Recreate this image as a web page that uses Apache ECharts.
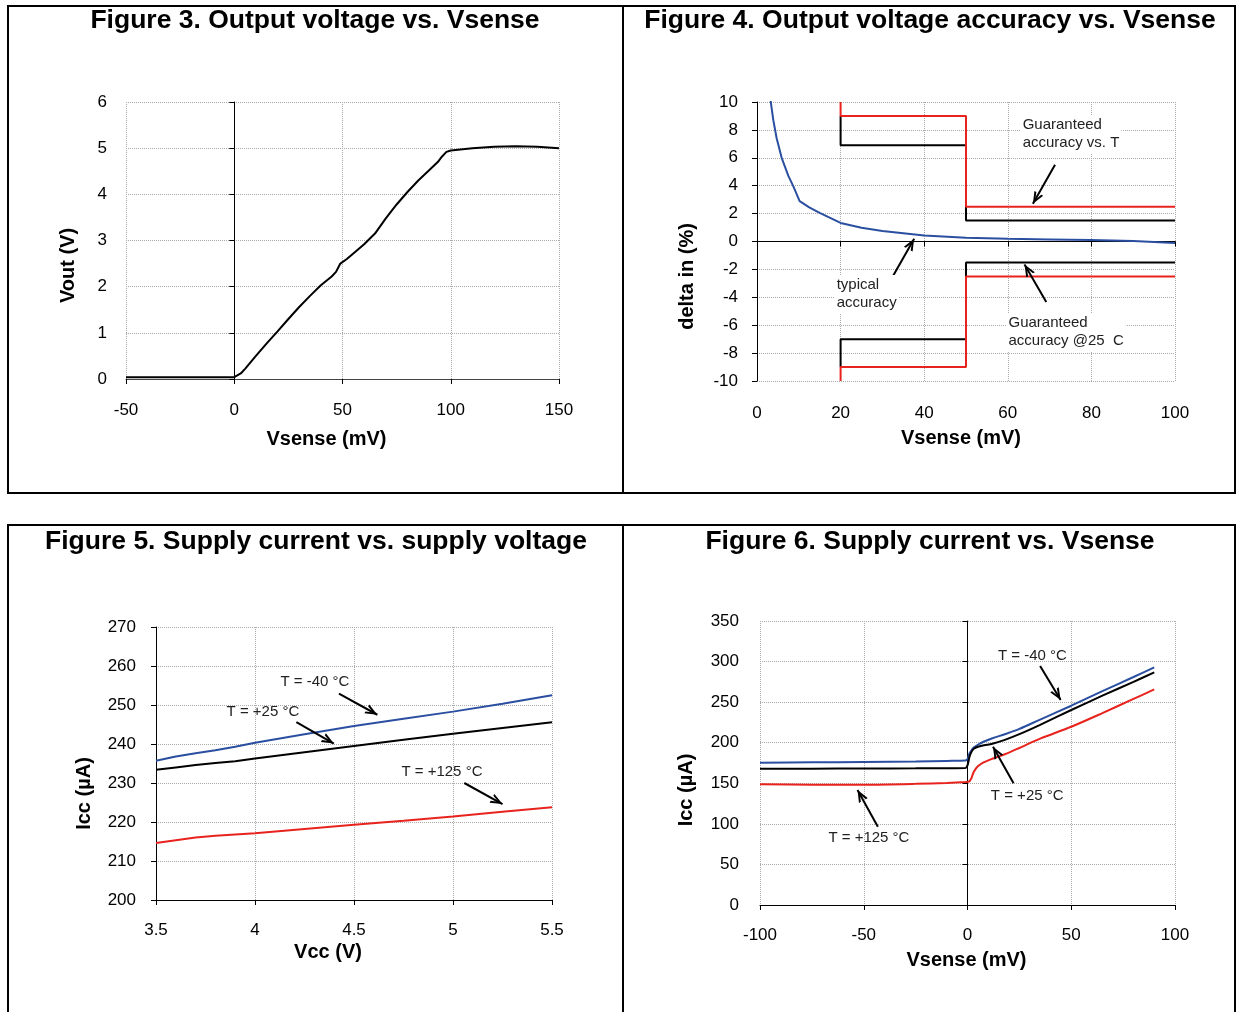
<!DOCTYPE html>
<html>
<head>
<meta charset="utf-8">
<script src="https://cdn.jsdelivr.net/npm/echarts@6/dist/echarts.min.js"></script>
<style>
  html, body { margin: 0; padding: 0; background: #fff; }
  #main { width: 1237px; height: 1012px; }
</style>
</head>
<body>
<div id="main"></div>
<script>
// Figure 3: output voltage vs Vsense
const vsense3 = [-50, -40, -30, -20, -10, 0, 3, 5, 10, 15, 20, 25, 30, 35, 40, 45, 47, 49, 52, 55, 60, 65, 70, 75, 80, 85, 90, 94, 96, 98, 100, 110, 120, 130, 140, 150];
const vout3 = [0.04, 0.04, 0.04, 0.04, 0.04, 0.04, 0.12, 0.22, 0.5, 0.77, 1.03, 1.3, 1.56, 1.8, 2.03, 2.22, 2.32, 2.5, 2.6, 2.72, 2.92, 3.15, 3.48, 3.78, 4.05, 4.3, 4.52, 4.7, 4.82, 4.92, 4.95, 5.0, 5.03, 5.04, 5.03, 5.0];

// Figure 4: accuracy vs Vsense
const vsense4 = [3.1, 3.25, 3.9, 4.7, 5.9, 7.5, 8.7, 10.2, 12.5, 15, 17.5, 20, 25, 30, 40, 50, 60, 70, 80, 90, 100];
const typical4 = [10.5, 10.1, 8.7, 7.4, 6.0, 4.7, 3.95, 2.9, 2.45, 2.05, 1.7, 1.33, 0.98, 0.75, 0.43, 0.27, 0.19, 0.14, 0.1, 0.03, -0.1];
const stepX4 = [20, 20, 50, 50, 100];
const guarTHi = [10, 9, 9, 2.5, 2.5];
const guarTLo = [-10, -9, -9, -2.5, -2.5];
const guar25Hi = [9, 6.9, 6.9, 1.5, 1.5];
const guar25Lo = [-9, -7, -7, -1.5, -1.5];

// Figure 5: supply current vs supply voltage
const vcc5 = [3.5, 3.6, 3.7, 3.8, 3.9, 4.0, 4.25, 4.5, 4.75, 5.0, 5.25, 5.5];
const icc5Minus40 = [235.7, 236.8, 237.6, 238.4, 239.3, 240.3, 242.5, 244.6, 246.5, 248.3, 250.3, 252.5];
const icc5Plus25 = [233.4, 234.0, 234.6, 235.1, 235.6, 236.3, 237.9, 239.5, 241.1, 242.6, 244.1, 245.6];
const icc5Plus125 = [214.6, 215.3, 216.0, 216.5, 216.8, 217.1, 218.2, 219.3, 220.3, 221.4, 222.6, 223.8];

// Figure 6: supply current vs Vsense
const vsense6 = [-100, -75, -50, -25, -10, -1, 0, 1, 2, 3, 5, 8, 12, 18, 25, 35, 50, 65, 80, 90];
const icc6Minus40 = [175.4, 175.8, 176.3, 177, 177.6, 178, 180, 187, 191, 194, 197.5, 201.5, 205.5, 210.5, 217, 228.5, 245.6, 263.5, 281, 292.9];
const icc6Plus25 = [167.9, 168, 168.2, 168.4, 168.6, 168.7, 172, 183, 189, 192.5, 195, 196.8, 198.8, 203.5, 210.5, 222, 240.3, 258, 275, 286.8];
const icc6Plus125 = [148.7, 148.3, 148.3, 149.3, 150.5, 151.5, 151.8, 152.5, 157, 164, 171, 176, 180.3, 185.8, 193.5, 205, 219.7, 236.5, 254, 265.7];

// annotations: [text, top-left in data coords]
const notes4 = [
  ['Guaranteed\naccuracy vs. T', [63.2, 9.03]],
  ['typical\naccuracy', [18.7, -2.44]],
  ['Guaranteed\naccuracy @25  C', [59.8, -5.16]]
];
const arrows4 = [
  [[71.3, 5.5], [66, 2.7]],
  [[32.2, -2.65], [37.6, 0.2]],
  [[69.2, -4.33], [64, -1.64]]
];
const notes5 = [
  ['T = -40 °C', [4.131, 258.2]],
  ['T = +25 °C', [3.859, 250.5]],
  ['T = +125 °C', [4.742, 235.1]]
];
const arrows5 = [
  [[4.424, 252.9], [4.618, 247.5]],
  [[4.209, 245.6], [4.398, 240.1]],
  [[5.057, 230.0], [5.25, 224.6]]
];
const notes6 = [
  ['T = -40 °C', [14.9, 317]],
  ['T = +25 °C', [11.5, 145.5]],
  ['T = +125 °C', [-66.8, 93.7]]
];
const arrows6 = [
  [[35, 294.5], [44.9, 252.6]],
  [[22.2, 150], [12.3, 195]],
  [[-43.2, 96.5], [-53, 141.7]]
];

const BLUE = '#2b4fa0', RED = '#e8231e', BLACK = '#000';
const FONT = '"Liberation Sans", Arial, sans-serif';
const ARROW = 'path://M5,-10 L5.01,-10 Z M0,10 L5,0 L10,10 L7.8,10 L5,4 L2.2,10 Z';

const zip = (xs, ys) => xs.map((x, i) => [x, ys[i]]);

const splitDotted = { show: true, lineStyle: { type: 'dotted', color: '#aaa', width: 1 } };
const tick = { show: true, length: 5, lineStyle: { color: '#000', width: 1 } };
// padding shifts an axis name along its axis
const nameStyle = (padding) => ({ fontSize: 20, fontWeight: 'bold', color: '#000', fontFamily: FONT, padding: padding });
const lbl = (margin) => ({ fontSize: 17, color: '#000', margin: margin, fontFamily: FONT });

function arrowLines(list) {
  return {
    silent: true,
    symbol: ['none', ARROW],
    symbolSize: [10, 24],
    label: { show: false },
    lineStyle: { color: '#000', width: 2, type: 'solid' },
    data: list.map(a => [{ coord: a[0] }, { coord: a[1] }])
  };
}
function notePoints(list, bg) {
  return {
    silent: true,
    symbol: 'circle',
    symbolSize: 1,
    itemStyle: { color: 'rgba(0,0,0,0)' },
    label: {
      show: true, position: [0, 0], color: '#222', fontSize: 15, lineHeight: 18,
      fontFamily: FONT, backgroundColor: bg ? '#fff' : 'transparent', padding: bg ? [1, 2] : 0
    },
    data: list.map(n => ({ coord: n[1], label: { formatter: n[0] } }))
  };
}
function line(name, data, color, xi, yi, extra) {
  return Object.assign({
    name: name, type: 'line', data: data, xAxisIndex: xi, yAxisIndex: yi,
    showSymbol: false, symbol: 'none', lineStyle: { color: color, width: 2 },
    itemStyle: { color: color }, silent: true, z: 3
  }, extra || {});
}

const option = {
  animation: false,
  textStyle: { fontFamily: FONT },
  grid: [
    { left: 126, top: 102, width: 433, height: 277, outerBoundsMode: 'none' },
    { left: 757, top: 102, width: 418, height: 279, outerBoundsMode: 'none' },
    { left: 156, top: 627, width: 396, height: 273, outerBoundsMode: 'none' },
    { left: 760, top: 621, width: 415, height: 284, outerBoundsMode: 'none' }
  ],
  xAxis: [
    { // 0: fig 3
      gridIndex: 0, type: 'value', min: -50, max: 150, interval: 50, position: 'bottom',
      axisLine: { show: true, onZero: false, lineStyle: { color: '#444' } }, axisTick: tick,
      axisLabel: lbl(23), splitLine: splitDotted,
      name: 'Vsense (mV)', nameLocation: 'middle', nameGap: 50, nameTextStyle: nameStyle([0, 32, 0, 0]), nameMoveOverlap: false
    },
    { // 1: fig 4 labels
      gridIndex: 1, type: 'value', min: 0, max: 100, interval: 20, position: 'bottom',
      axisLine: { show: false, onZero: false }, axisTick: { show: false },
      axisLabel: lbl(24), splitLine: splitDotted,
      name: 'Vsense (mV)', nameLocation: 'middle', nameGap: 47, nameTextStyle: nameStyle([0, 10, 0, 0]), nameMoveOverlap: false
    },
    { // 2: fig 4 zero line
      gridIndex: 1, type: 'value', min: 0, max: 100, interval: 20, position: 'bottom',
      axisLine: { show: true, onZero: true, lineStyle: { color: '#000' } }, axisTick: tick,
      axisLabel: { show: false }, splitLine: { show: false }
    },
    { // 3: fig 5
      gridIndex: 2, type: 'value', min: 3.5, max: 5.5, interval: 0.5, position: 'bottom',
      axisLine: { show: true, onZero: false, lineStyle: { color: '#000' } }, axisTick: tick,
      axisLabel: lbl(22), splitLine: splitDotted,
      name: 'Vcc (V)', nameLocation: 'middle', nameGap: 42, nameTextStyle: nameStyle([0, 52, 0, 0]), nameMoveOverlap: false
    },
    { // 4: fig 6
      gridIndex: 3, type: 'value', min: -100, max: 100, interval: 50, position: 'bottom',
      axisLine: { show: true, onZero: false, lineStyle: { color: '#000' } }, axisTick: tick,
      axisLabel: lbl(22), splitLine: splitDotted,
      name: 'Vsense (mV)', nameLocation: 'middle', nameGap: 45, nameTextStyle: nameStyle([0, 2, 0, 0]), nameMoveOverlap: false
    }
  ],
  yAxis: [
    { // 0: fig 3 labels
      gridIndex: 0, type: 'value', min: 0, max: 6, interval: 1, position: 'left',
      axisLine: { show: false, onZero: false }, axisTick: { show: false },
      axisLabel: lbl(19), splitLine: splitDotted,
      name: 'Vout (V)', nameLocation: 'middle', nameGap: 48, nameTextStyle: nameStyle([0, 50, 0, 0]), nameMoveOverlap: false
    },
    { // 1: fig 3 zero line
      gridIndex: 0, type: 'value', min: 0, max: 6, interval: 1, position: 'left',
      axisLine: { show: true, onZero: true, lineStyle: { color: '#000' } }, axisTick: tick,
      axisLabel: { show: false }, splitLine: { show: false }
    },
    { // 2: fig 4
      gridIndex: 1, type: 'value', min: -10, max: 10, interval: 2, position: 'left',
      axisLine: { show: true, onZero: false, lineStyle: { color: '#000' } }, axisTick: tick,
      axisLabel: lbl(19), splitLine: splitDotted,
      name: 'delta in (%)', nameLocation: 'middle', nameGap: 60, nameTextStyle: nameStyle([0, 70, 0, 0]), nameMoveOverlap: false
    },
    { // 3: fig 5
      gridIndex: 2, type: 'value', min: 200, max: 270, interval: 10, position: 'left',
      axisLine: { show: true, onZero: false, lineStyle: { color: '#000' } }, axisTick: tick,
      axisLabel: lbl(20), splitLine: splitDotted,
      name: 'Icc (µA)', nameLocation: 'middle', nameGap: 62, nameTextStyle: nameStyle([0, 60, 0, 0]), nameMoveOverlap: false
    },
    { // 4: fig 6 labels
      gridIndex: 3, type: 'value', min: 0, max: 350, interval: 50, position: 'left',
      axisLine: { show: false, onZero: false }, axisTick: { show: false },
      axisLabel: lbl(21), splitLine: splitDotted,
      name: 'Icc (µA)', nameLocation: 'middle', nameGap: 64, nameTextStyle: nameStyle([0, 54, 0, 0]), nameMoveOverlap: false
    },
    { // 5: fig 6 zero line
      gridIndex: 3, type: 'value', min: 0, max: 350, interval: 50, position: 'left',
      axisLine: { show: true, onZero: true, lineStyle: { color: '#000' } }, axisTick: tick,
      axisLabel: { show: false }, splitLine: { show: false }
    }
  ],
  series: [
    line('Vout', zip(vsense3, vout3), BLACK, 0, 0),

    line('25C hi', zip(stepX4, guar25Hi), BLACK, 1, 2),
    line('25C lo', zip(stepX4, guar25Lo), BLACK, 1, 2),
    line('T hi', zip(stepX4, guarTHi), RED, 1, 2),
    line('T lo', zip(stepX4, guarTLo), RED, 1, 2),
    line('typical', zip(vsense4, typical4), BLUE, 1, 2, {
      markLine: arrowLines(arrows4), markPoint: notePoints(notes4, true)
    }),

    line('-40 °C', zip(vcc5, icc5Minus40), BLUE, 3, 3),
    line('+25 °C', zip(vcc5, icc5Plus25), BLACK, 3, 3),
    line('+125 °C', zip(vcc5, icc5Plus125), RED, 3, 3, {
      markLine: arrowLines(arrows5), markPoint: notePoints(notes5, false)
    }),

    line('-40 °C', zip(vsense6, icc6Minus40), BLUE, 4, 4, { smooth: 0.3 }),
    line('+25 °C', zip(vsense6, icc6Plus25), BLACK, 4, 4, { smooth: 0.3 }),
    line('+125 °C', zip(vsense6, icc6Plus125), RED, 4, 4, {
      smooth: 0.3, markLine: arrowLines(arrows6), markPoint: notePoints(notes6, false)
    })
  ],
  graphic: [
    { type: 'rect', silent: true, shape: { x: 8, y: 6, width: 1227, height: 487 }, style: { fill: 'none', stroke: '#000', lineWidth: 2 } },
    { type: 'line', silent: true, shape: { x1: 623, y1: 6, x2: 623, y2: 493 }, style: { stroke: '#000', lineWidth: 2 } },
    { type: 'rect', silent: true, shape: { x: 8, y: 525, width: 1227, height: 520 }, style: { fill: 'none', stroke: '#000', lineWidth: 2 } },
    { type: 'line', silent: true, shape: { x1: 623, y1: 525, x2: 623, y2: 1012 }, style: { stroke: '#000', lineWidth: 2 } },
    { type: 'text', silent: true, x: 315, y: 21, style: { text: 'Figure 3. Output voltage vs. Vsense', font: 'bold 26.5px ' + FONT, fill: '#000', align: 'center', verticalAlign: 'middle' } },
    { type: 'text', silent: true, x: 930, y: 21, style: { text: 'Figure 4. Output voltage accuracy vs. Vsense', font: 'bold 26.5px ' + FONT, fill: '#000', align: 'center', verticalAlign: 'middle' } },
    { type: 'text', silent: true, x: 316, y: 542, style: { text: 'Figure 5. Supply current vs. supply voltage', font: 'bold 26.5px ' + FONT, fill: '#000', align: 'center', verticalAlign: 'middle' } },
    { type: 'text', silent: true, x: 930, y: 542, style: { text: 'Figure 6. Supply current vs. Vsense', font: 'bold 26.5px ' + FONT, fill: '#000', align: 'center', verticalAlign: 'middle' } }
  ]
};

const chart = echarts.init(document.getElementById('main'));
chart.setOption(option);
</script>
</body>
</html>
